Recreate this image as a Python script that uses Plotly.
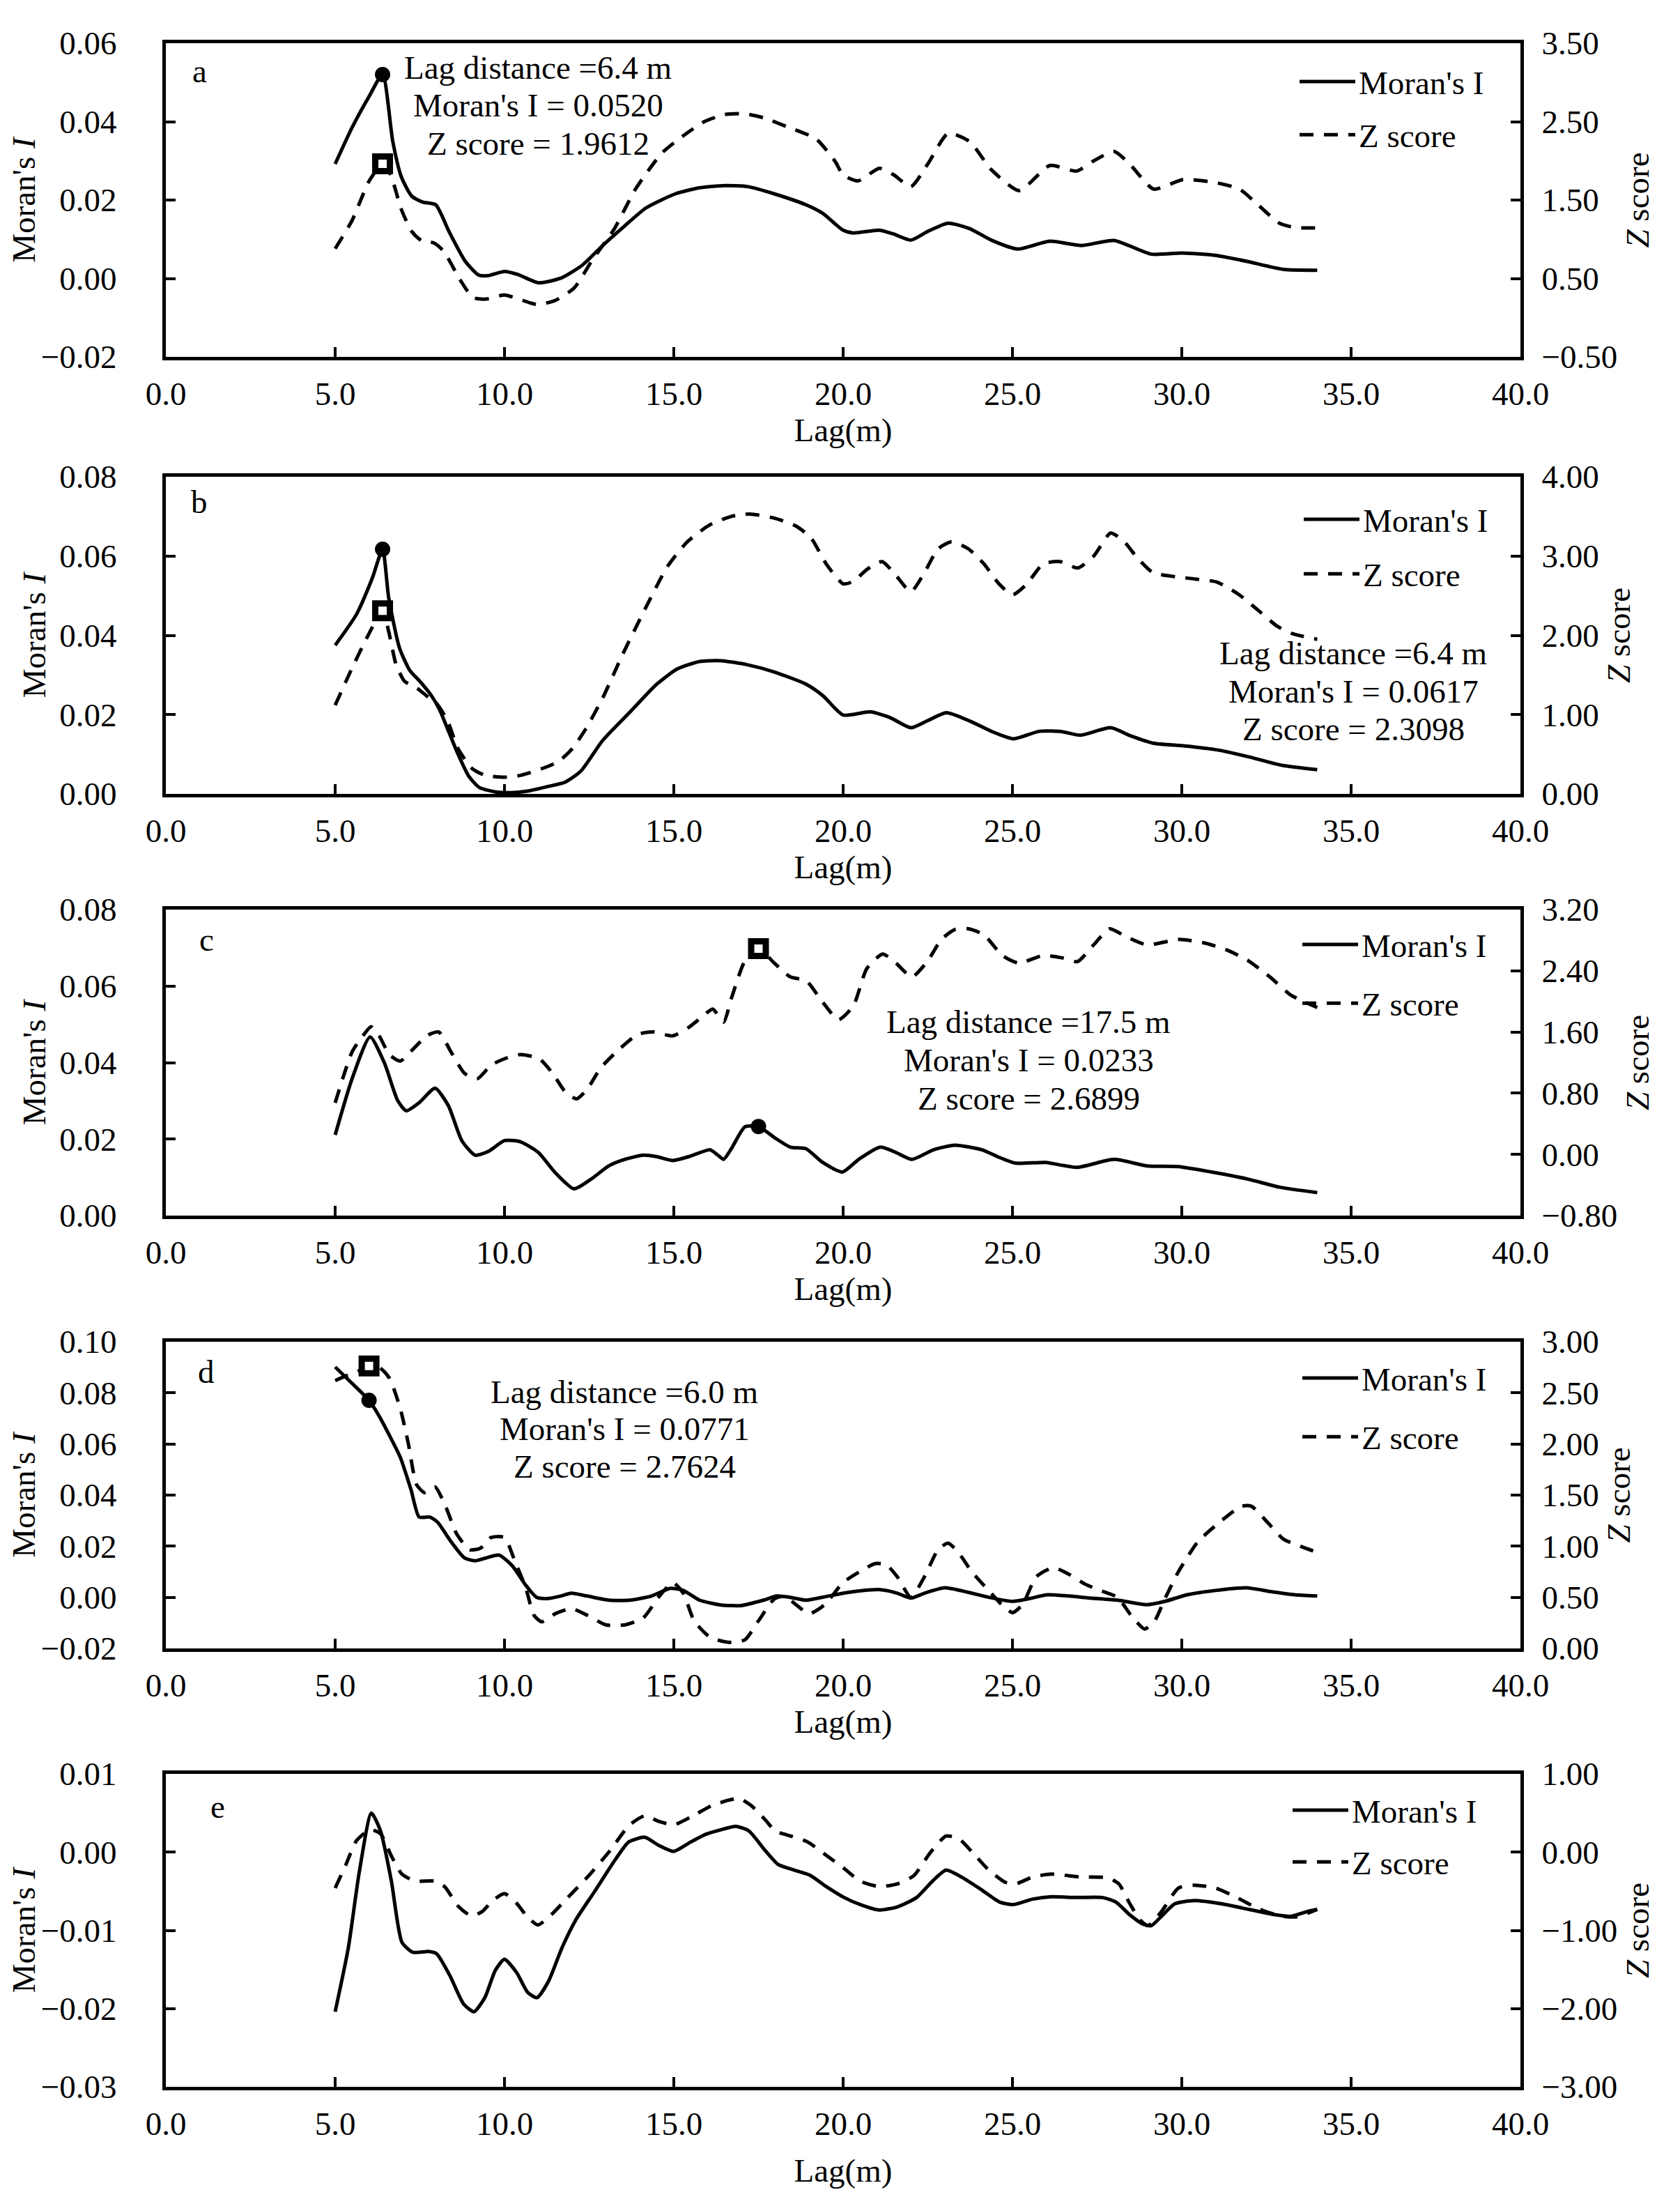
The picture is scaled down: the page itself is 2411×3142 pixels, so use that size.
import plotly.graph_objects as go

FONT = "Liberation Serif, Times New Roman, serif"
FS = 47

# ---------------- data ----------------
# panel a
a_lag_I = [5.0, 5.5, 6.0, 6.4, 6.7, 6.95, 7.26, 7.58, 7.97, 8.36, 8.84, 9.23, 9.5, 10.0, 10.4, 11.0, 11.67, 12.3, 12.9, 13.55,
           14.18, 15.05, 15.75, 16.5, 17.2, 17.96, 18.9, 19.4, 20.0, 20.3, 21.07, 21.5, 22.0, 22.5, 23.1, 23.74, 24.37, 25.16,
           26.1, 27.04, 28.0, 29.1, 30.03, 30.97, 31.9, 33.0, 34.0]
a_I = [0.0292, 0.0385, 0.0464, 0.0520, 0.035, 0.026, 0.021, 0.0195, 0.0188, 0.012, 0.0044, 0.0009, 0.0007, 0.0018, 0.0010,
       -0.0011, 0.0001, 0.0034, 0.0084, 0.0134, 0.018, 0.0216, 0.0231, 0.0237, 0.0234, 0.0216, 0.0188, 0.0166, 0.0123, 0.0116,
       0.0123, 0.0113, 0.0098, 0.012, 0.0141, 0.0127, 0.0098, 0.0075, 0.0095, 0.0084, 0.0097, 0.0062, 0.0065, 0.0059, 0.0044,
       0.0023, 0.0021]
a_lag_Z = [5.0, 5.5, 6.0, 6.4, 6.64, 6.95, 7.26, 7.58, 7.9, 8.2, 8.68, 9.07, 9.47, 10.0, 10.4, 10.96, 11.5, 12.06, 12.6, 13.24,
           13.87, 14.65, 15.28, 15.9, 16.5, 17.1, 17.64, 18.4, 19.2, 19.76, 20.0, 20.44, 21.07, 21.5, 22.0, 22.5, 23.1, 23.74,
           24.37, 25.2, 26.1, 26.9, 27.4, 28.0, 28.46, 29.17, 30.03, 30.97, 31.7, 32.2, 32.86, 33.33, 34.0]
a_Z = [0.88, 1.24, 1.74, 1.96, 1.82, 1.385, 1.10, 0.973, 0.955, 0.85, 0.49, 0.256, 0.238, 0.29, 0.24, 0.167, 0.22, 0.38, 0.74,
       1.13, 1.64, 2.1, 2.32, 2.5, 2.59, 2.6, 2.55, 2.425, 2.28, 1.995, 1.82, 1.745, 1.905, 1.82, 1.67, 1.96, 2.35, 2.245,
       1.89, 1.62, 1.94, 1.87, 2.0, 2.12, 1.96, 1.64, 1.76, 1.725, 1.64, 1.46, 1.21, 1.15, 1.145]
a_peak = [6.4, 0.0520, 1.9612]

# panel b
b_lag_I = [5.0, 5.63, 6.1, 6.4, 6.58, 6.9, 7.2, 7.5, 7.84, 8.08, 8.32, 8.63, 8.95, 9.26, 9.74, 10.2, 10.68, 11.3, 11.8, 12.26,
           12.9, 13.7, 14.5, 15.1, 15.77, 16.4, 17.16, 17.95, 18.9, 19.4, 20.0, 20.8, 21.4, 22.0, 22.5, 23.05, 23.76, 24.4,
           25.03, 25.8, 26.46, 27.0, 27.9, 28.5, 29.15, 30.1, 31.05, 32.0, 32.96, 34.0]
b_I = [0.0375, 0.0453, 0.0545, 0.0617, 0.0495, 0.0368, 0.0312, 0.0284, 0.0248, 0.0213, 0.0164, 0.010, 0.0044, 0.0016, 0.0005,
       0.0003, 0.0007, 0.0019, 0.003, 0.0058, 0.0135, 0.0206, 0.0277, 0.0315, 0.0334, 0.0336, 0.0326, 0.0308, 0.0277, 0.0248,
       0.0199, 0.0207, 0.0192, 0.0167, 0.0185, 0.0205, 0.0183, 0.0157, 0.0139, 0.0158, 0.0157, 0.0148, 0.0167, 0.0146, 0.0128,
       0.0121, 0.0111, 0.0093, 0.0072, 0.0061]
b_lag_Z = [5.0, 5.47, 5.95, 6.4, 6.58, 6.8, 7.05, 7.37, 7.69, 8.0, 8.32, 8.63, 9.03, 9.42, 9.98, 10.5, 11.15, 11.6, 12.0, 12.4,
           12.9, 13.5, 14.15, 14.8, 15.4, 16.05, 16.7, 17.24, 17.95, 18.6, 19.05, 19.5, 20.0, 20.3, 20.7, 21.15, 21.55, 22.0,
           22.4, 22.8, 23.2, 23.7, 24.16, 24.6, 25.0, 25.43, 25.9, 26.4, 26.93, 27.4, 27.9, 28.3, 28.7, 29.15, 29.8, 30.4,
           31.05, 31.7, 32.3, 32.8, 33.27, 34.0]
b_Z = [1.118, 1.56, 1.98, 2.31, 2.05, 1.63, 1.42, 1.35, 1.24, 1.14, 0.92, 0.57, 0.325, 0.236, 0.21, 0.236, 0.325, 0.41, 0.57,
       0.82, 1.21, 1.77, 2.33, 2.86, 3.18, 3.39, 3.5, 3.53, 3.48, 3.38, 3.23, 2.9, 2.65, 2.68, 2.83, 2.93, 2.76, 2.55, 2.79,
       3.09, 3.18, 3.09, 2.9, 2.65, 2.51, 2.65, 2.9, 2.93, 2.85, 3.0, 3.29, 3.18, 2.97, 2.79, 2.74, 2.71, 2.67, 2.51, 2.3,
       2.12, 2.02, 1.95]
b_peak = [6.4, 0.0617, 2.3098]

# panel c
c_lag_I = [5.0, 5.5, 6.03, 6.45, 6.85, 7.1, 7.48, 7.95, 8.34, 8.74, 9.13, 9.53, 10.0, 10.47, 11.0, 11.5, 12.05, 12.6, 13.08,
           13.55, 14.1, 14.5, 14.97, 15.44, 16.07, 16.3, 16.47, 16.7, 17.1, 17.5, 17.97, 18.44, 18.9, 19.38, 19.98, 20.46,
           21.1, 21.56, 22.03, 22.67, 23.3, 24.1, 24.56, 25.1, 25.98, 26.9, 28.0, 28.97, 29.9, 31.0, 31.97, 32.9, 34.0]
c_I = [0.0211, 0.0358, 0.0467, 0.040, 0.030, 0.0274, 0.0295, 0.0333, 0.0288, 0.0196, 0.0158, 0.0168, 0.0196, 0.0193, 0.0165,
       0.0112, 0.007, 0.0098, 0.013, 0.0147, 0.0158, 0.0154, 0.0144, 0.0154, 0.0172, 0.0158, 0.0147, 0.0175, 0.0232, 0.0233,
       0.0204, 0.0179, 0.0175, 0.014, 0.0114, 0.0147, 0.0179, 0.0165, 0.0147, 0.0172, 0.0184, 0.0172, 0.0154, 0.0137, 0.0139,
       0.0126, 0.0147, 0.013, 0.0128, 0.0112, 0.0095, 0.0074, 0.006]
c_lag_Z = [5.0, 5.5, 5.82, 6.06, 6.3, 6.6, 6.92, 7.3, 7.7, 8.06, 8.42, 8.82, 9.2, 9.6, 10.0, 10.47, 11.03, 11.42, 11.8, 12.13,
           12.44, 12.84, 13.39, 13.94, 14.4, 14.97, 15.44, 15.84, 16.15, 16.47, 16.7, 17.1, 17.5, 17.97, 18.44, 18.91, 19.38,
           19.86, 20.3, 20.7, 21.17, 21.56, 22.03, 22.5, 22.9, 23.3, 23.7, 24.16, 24.7, 25.19, 25.9, 26.45, 26.92, 27.4, 27.87,
           28.34, 28.97, 29.92, 30.7, 31.34, 31.97, 32.6, 33.23, 34.0]
c_Z = [0.674, 1.34, 1.55, 1.67, 1.55, 1.305, 1.22, 1.375, 1.55, 1.6, 1.34, 1.06, 0.99, 1.165, 1.25, 1.305, 1.25, 1.06, 0.814,
       0.726, 0.85, 1.13, 1.375, 1.57, 1.6, 1.55, 1.66, 1.8, 1.9, 1.73, 2.04, 2.53, 2.69, 2.5, 2.32, 2.27, 2.0, 1.76, 1.94,
       2.43, 2.62, 2.5, 2.32, 2.53, 2.81, 2.94, 2.95, 2.87, 2.6, 2.5, 2.6, 2.57, 2.52, 2.74, 2.95, 2.85, 2.74, 2.81, 2.76,
       2.67, 2.53, 2.32, 2.08, 1.92]
c_peak = [17.5, 0.0233, 2.6899]

# panel d
d_lag_I = [5.0, 5.5, 6.0, 6.3, 6.6, 6.92, 7.24, 7.48, 7.8, 8.03, 8.42, 8.82, 9.13, 9.45, 9.84, 10.24, 10.63, 10.95, 11.26, 11.66,
           11.97, 12.44, 13.08, 13.7, 14.34, 14.9, 15.28, 15.76, 16.39, 17.0, 17.65, 18.04, 18.44, 18.9, 19.38, 20.0, 20.48,
           21.1, 21.6, 22.0, 22.4, 23.0, 23.65, 24.3, 25.0, 25.5, 26.03, 26.67, 27.3, 28.1, 28.97, 29.5, 30.16, 30.95, 31.9,
           32.7, 33.33, 34.0]
d_I = [0.0901, 0.0837, 0.0771, 0.0709, 0.0634, 0.0549, 0.0421, 0.0314, 0.0314, 0.0293, 0.0218, 0.0154, 0.0143, 0.0154, 0.0165,
       0.0122, 0.0047, 0.0, -0.0005, 0.0005, 0.0016, 0.0005, -0.0011, -0.0011, 0.0005, 0.0035, 0.0027, -0.0011, -0.003,
       -0.0032, -0.0011, 0.0005, 0.0, -0.0011, 0.0, 0.0016, 0.0025, 0.003, 0.0016, -0.0003, 0.0016, 0.0037, 0.0021, 0.0,
       -0.0016, -0.0005, 0.001, 0.0005, -0.0003, -0.0011, -0.0029, -0.0016, 0.001, 0.0026, 0.0037, 0.0021, 0.001, 0.0005]
d_lag_Z = [5.0, 5.35, 5.66, 6.0, 6.3, 6.6, 6.92, 7.16, 7.4, 7.63, 7.95, 8.26, 8.58, 8.97, 9.29, 9.6, 10.0, 10.3, 10.63, 10.87,
           11.1, 11.5, 11.97, 12.44, 13.0, 13.55, 14.1, 14.57, 14.97, 15.28, 15.6, 16.07, 16.62, 17.1, 17.5, 17.97, 18.28, 18.6,
           19.0, 19.46, 20.0, 20.48, 20.95, 21.27, 21.6, 22.0, 22.4, 22.8, 23.1, 23.4, 23.8, 24.3, 24.68, 25.0, 25.3, 25.7,
           26.2, 26.67, 27.14, 27.6, 28.1, 28.5, 28.9, 29.2, 29.5, 29.9, 30.48, 31.1, 31.75, 32.06, 32.54, 33.0, 33.5, 34.0]
d_Z = [2.62, 2.67, 2.71, 2.76, 2.75, 2.645, 2.35, 2.005, 1.605, 1.525, 1.58, 1.39, 1.125, 0.965, 0.98, 1.085, 1.085, 0.86,
       0.59, 0.325, 0.26, 0.34, 0.39, 0.325, 0.23, 0.23, 0.3, 0.51, 0.645, 0.54, 0.27, 0.11, 0.06, 0.085, 0.27, 0.485, 0.51,
       0.43, 0.34, 0.43, 0.645, 0.75, 0.83, 0.82, 0.7, 0.5, 0.7, 0.965, 1.03, 0.94, 0.75, 0.565, 0.43, 0.35, 0.43, 0.7, 0.79,
       0.725, 0.63, 0.565, 0.5, 0.325, 0.19, 0.27, 0.485, 0.75, 1.045, 1.23, 1.39, 1.39, 1.23, 1.07, 1.0, 0.94]
d_peak = [6.0, 0.0771, 2.7624]

# panel e
e_lag_I = [5.0, 5.39, 5.71, 6.07, 6.34, 6.66, 6.97, 7.29, 7.76, 8.0, 8.39, 8.79, 9.1, 9.42, 9.73, 10.0, 10.36, 10.68, 10.96,
           11.3, 11.7, 12.1, 12.65, 13.28, 13.67, 14.15, 14.54, 15.0, 15.5, 15.96, 16.43, 16.83, 17.22, 17.7, 18.09, 18.56,
           19.04, 19.5, 20.03, 20.5, 21.05, 21.6, 22.17, 22.64, 23.04, 23.5, 24.08, 24.63, 25.03, 25.6, 26.15, 26.86, 27.66,
           28.06, 28.46, 28.85, 29.1, 29.4, 29.8, 30.37, 31.16, 31.96, 32.75, 33.23, 33.7, 34.0]
e_I = [-0.0204, -0.0122, -0.0026, 0.005, 0.0027, -0.0037, -0.0115, -0.0128, -0.0127, -0.013, -0.0158, -0.0194, -0.0204,
       -0.0186, -0.0151, -0.0137, -0.0154, -0.0179, -0.0186, -0.0165, -0.0122, -0.0087, -0.0051, -0.0009, 0.0013, 0.0019,
       0.0009, 0.0001, 0.0013, 0.0023, 0.0029, 0.0033, 0.0027, 0.0002, -0.0016, -0.0023, -0.003, -0.0044, -0.0058, -0.0067,
       -0.0074, -0.007, -0.0058, -0.0037, -0.0023, -0.0032, -0.0048, -0.0064, -0.0067, -0.006, -0.0057, -0.0058, -0.0058,
       -0.0064, -0.008, -0.0092, -0.0094, -0.0082, -0.0066, -0.0062, -0.0066, -0.0073, -0.008, -0.0082, -0.0076, -0.0073]
e_lag_Z = [5.0, 5.32, 5.63, 6.03, 6.34, 6.66, 6.97, 7.37, 7.92, 8.23, 8.63, 9.02, 9.34, 9.65, 10.0, 10.36, 10.68, 10.99, 11.39,
           11.86, 12.49, 13.12, 13.68, 14.15, 14.54, 15.0, 15.5, 16.1, 16.6, 16.93, 17.3, 17.7, 18.0, 18.5, 18.96, 19.43,
           20.03, 20.5, 21.05, 21.6, 22.09, 22.56, 23.04, 23.44, 23.84, 24.3, 24.8, 25.1, 25.6, 26.15, 27.0, 27.8, 28.14,
           28.46, 28.77, 29.0, 29.4, 29.9, 30.37, 31.0, 31.64, 32.28, 32.9, 33.4, 34.0]
e_Z = [-0.459, -0.157, 0.146, 0.288, 0.235, -0.05, -0.281, -0.37, -0.37, -0.44, -0.69, -0.815, -0.76, -0.62, -0.53, -0.655,
       -0.83, -0.93, -0.797, -0.584, -0.3, 0.021, 0.342, 0.466, 0.395, 0.35, 0.448, 0.59, 0.662, 0.687, 0.59, 0.413, 0.27,
       0.2, 0.128, -0.018, -0.21, -0.37, -0.44, -0.406, -0.3, -0.014, 0.206, 0.164, -0.014, -0.228, -0.388, -0.405, -0.317,
       -0.281, -0.317, -0.327, -0.405, -0.655, -0.868, -0.94, -0.76, -0.459, -0.423, -0.459, -0.584, -0.726, -0.815, -0.826,
       -0.733]

panel_letters = ["a", "b", "c", "d", "e"]
x_ticks = [0, 5, 10, 15, 20, 25, 30, 35, 40]
I_ranges = [[-0.02, 0.06], [0.0, 0.08], [0.0, 0.08], [-0.02, 0.10], [-0.03, 0.01]]
I_dticks = [0.02, 0.02, 0.02, 0.02, 0.01]
Z_ranges = [[-0.5, 3.5], [0.0, 4.0], [-0.8, 3.2], [0.0, 3.0], [-3.0, 1.0]]
Z_dticks = [1.0, 1.0, 0.8, 0.5, 1.0]

# ---------------- layout helpers ----------------
W, H = 2411, 3142
ML, MR, MT, MB = 230, 237, 54, 156
PW = W - ML - MR
PH = H - MT - MB


def px_x(p):
    return (p - ML) / PW


def px_y(p):
    return (H - MB - p) / PH


panel_px = [(54, 504), (676, 1131), (1297, 1736), (1917, 2357), (2537, 2986)]
xtitle_standoff = [4, 4, 4, 4, 26]

series = [
    (a_lag_I, a_I, a_lag_Z, a_Z, a_peak),
    (b_lag_I, b_I, b_lag_Z, b_Z, b_peak),
    (c_lag_I, c_I, c_lag_Z, c_Z, c_peak),
    (d_lag_I, d_I, d_lag_Z, d_Z, d_peak),
    (e_lag_I, e_I, e_lag_Z, e_Z, None),
]

stat_pos = [(764, [89, 143, 198]), (1934, [929, 984, 1038]), (1468, [1458, 1513, 1568]), (888, [1989, 2042, 2096]), None]
letter_pos = [(278, 94), (278, 712), (288, 1340), (288, 1960), (304, 2584)]
legend_pos = [(1852, 72, 12), (1858, 700, 14), (1856, 1310, 20), (1856, 1932, 20), (1842, 2552, 10)]

LW_AX = 5
fig = go.Figure()
layout = dict(
    width=W, height=H,
    margin=dict(l=ML, r=MR, t=MT, b=MB),
    paper_bgcolor="white", plot_bgcolor="white",
    font=dict(family=FONT, size=FS, color="black"),
    showlegend=True,
)
annotations = []

for i, (lagI, vI, lagZ, vZ, peak) in enumerate(series):
    sfx = "" if i == 0 else str(i + 1)
    xname = "x" + sfx
    yl = 2 * i + 1
    yr = 2 * i + 2
    ylname = "y" if yl == 1 else f"y{yl}"
    yrname = f"y{yr}"
    lgname = "legend" + sfx
    top, bot = panel_px[i]
    dom = [px_y(bot), px_y(top)]

    layout["xaxis" + sfx] = dict(
        domain=[0, 1], anchor=ylname, range=[0, 40], tickvals=x_ticks, tickformat=".1f",
        showline=True, linecolor="black", linewidth=LW_AX, mirror=True,
        ticks="inside", ticklen=14, tickwidth=4, tickcolor="black",
        showgrid=False, zeroline=False, ticklabelstandoff=8,
        title=dict(text="Lag(m)", standoff=xtitle_standoff[i], font=dict(size=FS)),
        automargin=False,
    )
    lo, hi = I_ranges[i]
    layout["yaxis" if yl == 1 else f"yaxis{yl}"] = dict(
        domain=dom, anchor=xname, range=[lo, hi], tick0=lo, dtick=I_dticks[i], tickformat=".2f",
        showline=True, linecolor="black", linewidth=LW_AX,
        ticks="inside", ticklen=14, tickwidth=4, tickcolor="black",
        showgrid=False, zeroline=False, ticklabelstandoff=56,
        title=dict(text="Moran's <i>I</i>", standoff=6, font=dict(size=FS)),
        automargin=False,
    )
    zlo, zhi = Z_ranges[i]
    layout[f"yaxis{yr}"] = dict(
        domain=dom, anchor=xname, overlaying=ylname, side="right",
        range=[zlo, zhi], tick0=zlo, dtick=Z_dticks[i], tickformat=".2f",
        showline=True, linecolor="black", linewidth=LW_AX,
        ticks="inside", ticklen=14, tickwidth=4, tickcolor="black",
        showgrid=False, zeroline=False, ticklabelstandoff=16,
        title=dict(text="<i>Z</i> score", standoff=14, font=dict(size=FS)),
        automargin=False,
    )
    lx, ly, gap = legend_pos[i]
    layout[lgname] = dict(
        x=px_x(lx), y=px_y(ly), xanchor="left", yanchor="top",
        bgcolor="rgba(0,0,0,0)", borderwidth=0, font=dict(size=FS, family=FONT),
        itemwidth=80, tracegroupgap=gap, traceorder="grouped",
    )

    fig.add_trace(go.Scatter(
        x=lagI, y=vI, xaxis=xname, yaxis=ylname, mode="lines", name="Moran's I",
        line=dict(color="black", width=5, shape="spline", smoothing=0.6),
        legend=lgname, legendgroup=f"I{i}",
    ))
    fig.add_trace(go.Scatter(
        x=lagZ, y=vZ, xaxis=xname, yaxis=yrname, mode="lines", name="Z score",
        line=dict(color="black", width=5, dash="20px,15px", shape="spline", smoothing=0.6),
        legend=lgname, legendgroup=f"Z{i}",
    ))
    if peak is not None:
        fig.add_trace(go.Scatter(
            x=[peak[0]], y=[peak[1]], xaxis=xname, yaxis=ylname, mode="markers", showlegend=False,
            marker=dict(symbol="circle", size=22, color="black"), legend=lgname,
        ))
        fig.add_trace(go.Scatter(
            x=[peak[0]], y=[peak[2]], xaxis=xname, yaxis=yrname, mode="markers", showlegend=False,
            marker=dict(symbol="square", size=21, color="white", line=dict(color="black", width=9)), legend=lgname,
        ))
        cx, ys = stat_pos[i]
        texts = [f"Lag distance ={peak[0]:.1f} m", f"Moran's I = {peak[1]:.4f}", f"Z score = {peak[2]:.4f}"]
        for t, yy in zip(texts, ys):
            annotations.append(dict(
                text=t, x=px_x(cx), y=px_y(yy), xref="paper", yref="paper",
                xanchor="center", yanchor="middle", showarrow=False, font=dict(size=FS, family=FONT),
            ))
    lpx, lpy = letter_pos[i]
    annotations.append(dict(
        text=panel_letters[i], x=px_x(lpx), y=px_y(lpy), xref="paper", yref="paper",
        xanchor="center", yanchor="middle", showarrow=False, font=dict(size=FS, family=FONT),
    ))

layout["annotations"] = annotations
fig.update_layout(**layout)
fig.write_html("out.html")
